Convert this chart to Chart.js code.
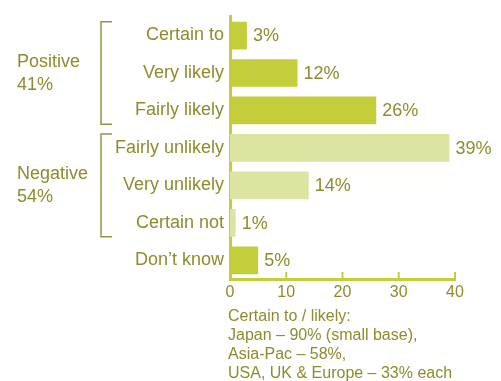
<!DOCTYPE html>
<html>
<head>
<meta charset="utf-8">
<script src="https://cdn.jsdelivr.net/npm/chart.js@4"></script>
<style>
  html, body { margin: 0; padding: 0; background: #fff; }
  #wrap { width: 501px; height: 381px; position: relative; }
</style>
</head>
<body>
<div id="wrap"><canvas id="chart"></canvas></div>
<script>
const categories = ['Certain to', 'Very likely', 'Fairly likely', 'Fairly unlikely', 'Very unlikely', 'Certain not', 'Don\u2019t know'];
const values = [3, 12, 26, 39, 14, 1, 5];
const barColors = ['#c4ce3a', '#c4ce3a', '#c4ce3a', '#dde3a1', '#dde3a1', '#dde3a1', '#c4ce3a'];
const xTicks = [0, 10, 20, 30, 40];
const groups = [
  { lines: ['Positive', '41%'], from: 0, to: 2 },
  { lines: ['Negative', '54%'], from: 3, to: 5 }
];
const footnote = [
  'Certain to / likely:',
  'Japan \u2013 90% (small base),',
  'Asia-Pac \u2013 58%,',
  'USA, UK & Europe \u2013 33% each'
];

const textColor = '#8f8b2d';
const axisColor = '#c4ce3a';
const font = '"Liberation Sans", Arial, Helvetica, sans-serif';

const extras = {
  id: 'extras',
  afterDraw(chart) {
    const ctx = chart.ctx;
    const x = chart.scales.x;
    const area = chart.chartArea;
    const meta = chart.getDatasetMeta(0);
    ctx.save();

    // value labels
    ctx.fillStyle = textColor;
    ctx.font = '18px ' + font;
    ctx.textBaseline = 'middle';
    ctx.textAlign = 'left';
    meta.data.forEach((bar, i) => {
      ctx.fillText(values[i] + '%', bar.x + 6, bar.y + 1);
    });

    // upward tick marks
    ctx.strokeStyle = axisColor;
    ctx.lineWidth = 2;
    xTicks.slice(1).forEach(t => {
      const px = x.getPixelForValue(t);
      ctx.beginPath();
      ctx.moveTo(px, area.bottom - 7);
      ctx.lineTo(px, area.bottom);
      ctx.stroke();
    });

    // group brackets and labels
    groups.forEach(g => {
      const b0 = meta.data[g.from], b1 = meta.data[g.to];
      const top = b0.y - b0.height / 2;
      const bottom = b1.y + b1.height / 2;
      ctx.strokeStyle = '#9a9440';
      ctx.lineWidth = 1.5;
      ctx.beginPath();
      ctx.moveTo(112, top);
      ctx.lineTo(101, top);
      ctx.lineTo(101, bottom);
      ctx.lineTo(112, bottom);
      ctx.stroke();
      const mid = (b0.y + b1.y) / 2;
      ctx.fillStyle = textColor;
      ctx.font = '18px ' + font;
      ctx.textAlign = 'left';
      ctx.fillText(g.lines[0], 17, mid - 11);
      ctx.fillText(g.lines[1], 17, mid + 12);
    });

    // footnote
    ctx.font = '16px ' + font;
    ctx.fillStyle = textColor;
    footnote.forEach((line, i) => {
      ctx.fillText(line, 228, area.bottom + 38 + i * 19);
    });
    ctx.restore();
  }
};

new Chart(document.getElementById('chart'), {
  type: 'bar',
  data: {
    labels: categories,
    datasets: [{
      data: values,
      backgroundColor: barColors,
      barPercentage: 0.74,
      categoryPercentage: 1
    }]
  },
  options: {
    indexAxis: 'y',
    responsive: true,
    maintainAspectRatio: false,
    animation: false,
    layout: { padding: { top: 12, right: 46, left: 0, bottom: 0 } },
    plugins: { legend: { display: false }, tooltip: { enabled: false } },
    scales: {
      x: {
        min: 0,
        max: 40,
        afterBuildTicks(scale) { scale.ticks = xTicks.map(v => ({ value: v })); },
        afterFit(scale) { scale.height = 102; },
        grid: { display: false, drawTicks: false },
        border: { display: true, color: axisColor, width: 3 },
        ticks: { color: textColor, font: { size: 16, family: font }, padding: 4 }
      },
      y: {
        afterFit(scale) { scale.width = 230; },
        grid: { display: false, drawTicks: false },
        border: { display: true, color: axisColor, width: 3 },
        ticks: { color: textColor, font: { size: 18, family: font }, padding: 6 }
      }
    }
  },
  plugins: [extras]
});
</script>
</body>
</html>
